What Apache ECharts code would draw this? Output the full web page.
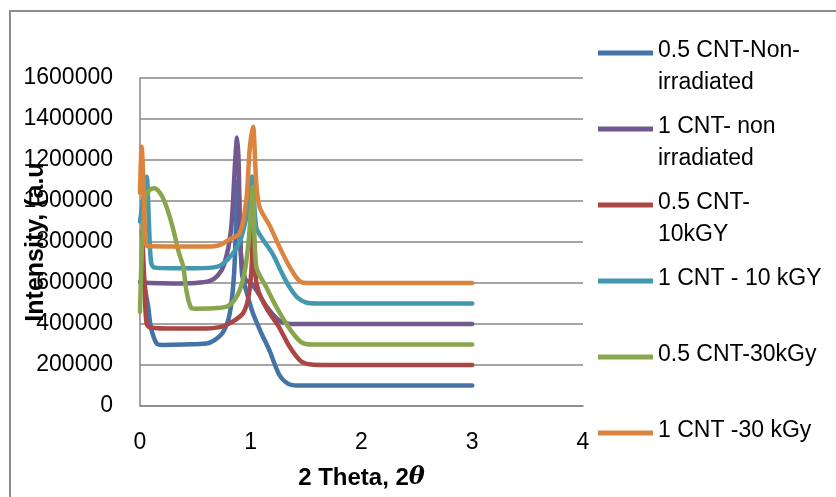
<!DOCTYPE html>
<html>
<head>
<meta charset="utf-8">
<script src="https://cdn.jsdelivr.net/npm/echarts@6/dist/echarts.min.js"></script>
<style>
html,body{margin:0;padding:0;background:#fff;}
#chart{width:836px;height:497px;}
</style>
</head>
<body>
<div id="chart"></div>
<script>
// ---- data ----
const seriesNames = [
  '0.5 CNT-Non-irradiated',
  '1 CNT- non irradiated',
  '0.5 CNT-10kGY',
  '1 CNT - 10 kGY',
  '0.5 CNT-30kGy',
  '1 CNT -30 kGy'
];
const legendLabels = [
  '0.5 CNT-Non-\nirradiated',
  '1 CNT- non\nirradiated',
  '0.5 CNT-\n10kGY',
  '1 CNT - 10 kGY\n ',
  '0.5 CNT-30kGy\n ',
  '1 CNT -30 kGy\n '
];
const xTicks = [0, 1, 2, 3, 4];
const yTicks = [0, 200000, 400000, 600000, 800000, 1000000, 1200000, 1400000, 1600000];

const cnt05Non = [
  [0.02, 700000], [0.05, 560000], [0.075, 480000], [0.1, 380000], [0.15, 305000], [0.2, 298000],
  [0.4, 300000], [0.6, 305000], [0.67, 320000], [0.75, 360000], [0.81, 450000], [0.85, 650000],
  [0.885, 1100000], [0.92, 650000], [0.96, 560000], [1.02, 452000], [1.1, 350000], [1.17, 270000],
  [1.26, 150000], [1.34, 108000], [1.42, 100000], [3, 100000]
];
const cnt1Non = [
  [0, 605000], [0.1, 600000], [0.3, 598000], [0.5, 600000], [0.63, 610000], [0.7, 635000],
  [0.76, 690000], [0.82, 850000], [0.86, 1200000], [0.877, 1310000], [0.89, 1200000], [0.91, 750000],
  [0.95, 620000], [1.0, 600000], [1.05, 566000], [1.15, 480000], [1.25, 420000], [1.32, 403000],
  [1.4, 400000], [3, 400000]
];
const cnt05_10 = [
  [0.02, 850000], [0.04, 600000], [0.06, 400000], [0.1, 382000], [0.3, 378000], [0.6, 378000],
  [0.72, 385000], [0.81, 403000], [0.93, 452000], [0.98, 533000], [1.01, 700000], [1.02, 950000],
  [1.04, 650000], [1.07, 560000], [1.15, 470000], [1.25, 390000], [1.35, 290000], [1.45, 220000],
  [1.55, 202000], [1.65, 200000], [3, 200000]
];
const cnt1_10 = [
  [0, 900000], [0.04, 1050000], [0.06, 1118000], [0.08, 900000], [0.1, 700000], [0.13, 675000],
  [0.3, 672000], [0.5, 672000], [0.7, 680000], [0.8, 720000], [0.9, 800000], [0.97, 950000],
  [1.01, 1120000], [1.05, 870000], [1.1, 820000], [1.2, 740000], [1.28, 650000], [1.35, 580000],
  [1.42, 530000], [1.5, 505000], [1.6, 500000], [3, 500000]
];
const cnt05_30 = [
  [0, 460000], [0.02, 800000], [0.05, 1020000], [0.09, 1055000], [0.13, 1062000], [0.18, 1040000],
  [0.22, 1000000], [0.27, 920000], [0.31, 840000], [0.35, 750000], [0.39, 680000], [0.42, 560000],
  [0.46, 480000], [0.5, 475000], [0.7, 478000], [0.8, 490000], [0.88, 540000], [0.94, 640000],
  [0.98, 800000], [1.02, 1070000], [1.05, 680000], [1.14, 580000], [1.23, 484000], [1.3, 420000],
  [1.38, 355000], [1.46, 310000], [1.55, 300000], [3, 300000]
];
const cnt1_30 = [
  [0, 1040000], [0.015, 1265000], [0.03, 1100000], [0.05, 800000], [0.07, 780000], [0.3, 778000],
  [0.6, 778000], [0.72, 785000], [0.8, 810000], [0.9, 842000], [0.96, 1005000], [0.99, 1250000],
  [1.02, 1362000], [1.05, 1086000], [1.08, 970000], [1.17, 880000], [1.26, 775000], [1.35, 680000],
  [1.44, 610000], [1.52, 600000], [3, 600000]
];
const allData = [cnt05Non, cnt1Non, cnt05_10, cnt1_10, cnt05_30, cnt1_30];
const colors = ['#4572A7', '#71588F', '#AA4643', '#4198AF', '#89A54E', '#DB843D'];

// ---- chart ----
const chart = echarts.init(document.getElementById('chart'), null, {renderer: 'canvas'});
const FONT = 'Liberation Sans';
const labelMap = {};
seriesNames.forEach((n, i) => { labelMap[n] = legendLabels[i]; });

const option = {
  animation: false,
  backgroundColor: '#fff',
  color: colors,
  graphic: [{
    type: 'polyline',
    shape: {points: [[10, 700], [10, 11], [1000, 11]]},
    style: {fill: null, stroke: '#8c8c8c', lineWidth: 2},
    silent: true
  }],
  grid: {left: 140, right: 253, top: 78, bottom: 91, containLabel: false, outerBoundsMode: 'none'},
  legend: {
    orient: 'vertical',
    left: 598,
    top: 32,
    padding: 0,
    itemWidth: 55,
    itemHeight: 32,
    itemGap: 7,
    icon: 'path://M0,0H55V5H0Z M0,31.99H0.01V32H0Z',
    itemStyle: {borderWidth: 0},
    data: seriesNames,
    formatter: name => labelMap[name],
    textStyle: {fontSize: 23, fontFamily: FONT, color: '#000', lineHeight: 32, padding: [5, 0, 0, 0]}
  },
  xAxis: {
    type: 'value',
    min: xTicks[0],
    max: xTicks[xTicks.length - 1],
    interval: 1,
    name: '2 Theta, 2{i|θ}',
    nameLocation: 'middle',
    nameGap: 60,
    nameMoveOverlap: false,
    nameTextStyle: {
      fontSize: 24, fontWeight: 'bold', fontFamily: FONT, color: '#000',
      rich: {i: {fontSize: 24, fontWeight: 'bold', fontStyle: 'italic', fontFamily: 'DejaVu Serif', color: '#000'}}
    },
    axisLine: {show: true, lineStyle: {color: '#878787', width: 1.5}},
    axisTick: {show: false},
    splitLine: {show: false},
    axisLabel: {fontSize: 23, fontFamily: FONT, color: '#000', margin: 25}
  },
  yAxis: {
    type: 'value',
    min: yTicks[0],
    max: yTicks[yTicks.length - 1],
    interval: 200000,
    name: 'Intensity, (a.u',
    nameLocation: 'middle',
    nameGap: 91,
    nameRotate: 90,
    nameMoveOverlap: false,
    nameTextStyle: {fontSize: 25, fontWeight: 'bold', fontFamily: FONT, color: '#000'},
    axisLine: {show: true, lineStyle: {color: '#878787', width: 1.5}},
    axisTick: {show: false},
    splitLine: {show: true, lineStyle: {color: '#878787', width: 1.5}},
    axisLabel: {fontSize: 23, fontFamily: FONT, color: '#000', margin: 27, formatter: v => String(v)}
  },
  series: seriesNames.map((n, i) => ({
    name: n,
    type: 'line',
    data: allData[i],
    showSymbol: false,
    symbol: 'none',
    smooth: 0.3,
    lineStyle: {width: 4.5, color: colors[i], cap: 'round', join: 'round'},
    itemStyle: {color: colors[i]}
  }))
};
chart.setOption(option);
</script>
</body>
</html>
